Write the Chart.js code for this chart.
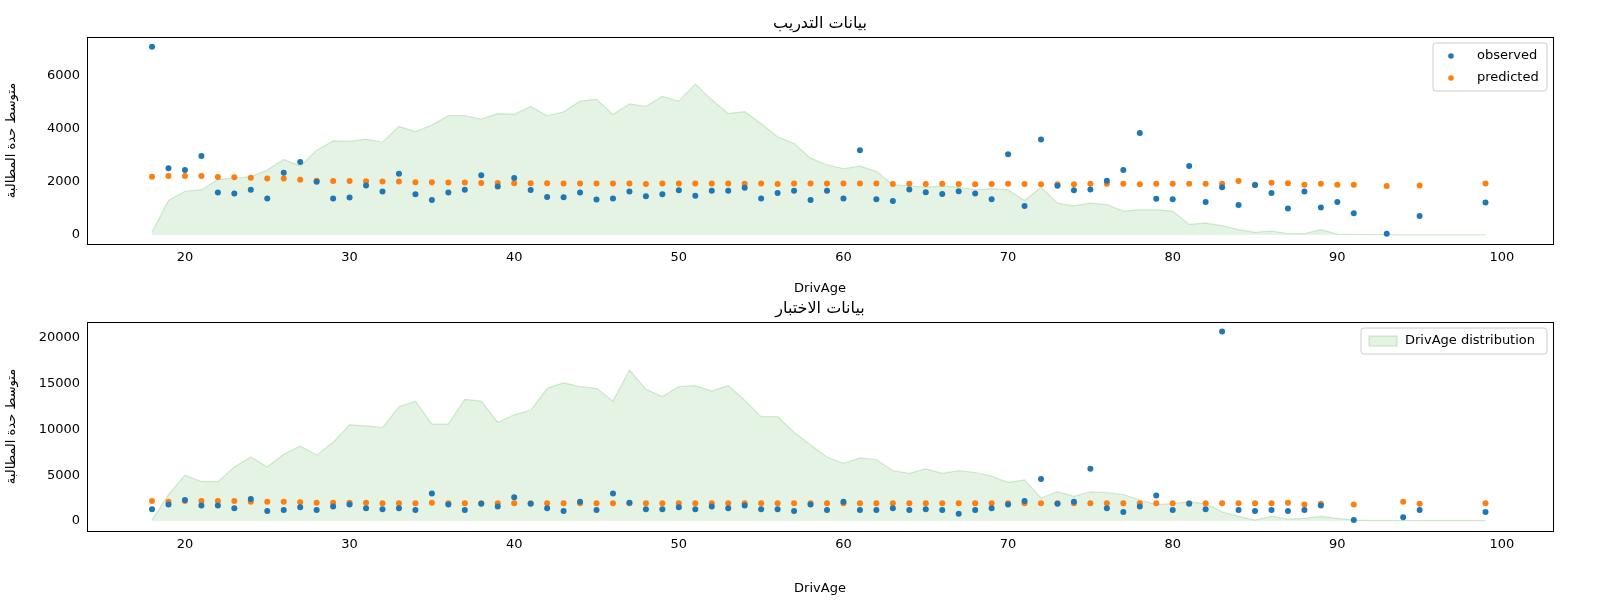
<!DOCTYPE html>
<html>
<head>
<meta charset="utf-8">
<script src="https://cdn.jsdelivr.net/npm/chart.js@4/dist/chart.umd.min.js"></script>
<style>
  body { margin: 0; background: #fff; }
  canvas { display: block; }
</style>
</head>
<body>
<canvas id="trainChart" width="1600" height="300"></canvas>
<canvas id="testChart" width="1600" height="300"></canvas>
<script>
// training data
const trainAges = [18,19,20,21,22,23,24,25,26,27,28,29,30,31,32,33,34,35,36,37,38,39,40,41,42,43,44,45,46,47,48,49,50,51,52,53,54,55,56,57,58,59,60,61,62,63,64,65,66,67,68,69,70,71,72,73,74,75,76,77,78,79,80,81,82,83,84,85,86,87,88,89,90,91,93,95,99];
const trainObserved = [7100,2520,2450,2980,1600,1570,1710,1380,2350,2750,2010,1380,1410,1870,1640,2310,1540,1320,1600,1710,2250,1830,2150,1700,1430,1420,1600,1340,1380,1640,1460,1540,1690,1480,1670,1670,1780,1380,1580,1670,1320,1670,1380,3200,1350,1280,1720,1610,1550,1650,1570,1350,3050,1090,3600,1860,1690,1720,2050,2450,3850,1370,1350,2600,1240,1800,1130,1890,1580,1000,1640,1040,1240,820,50,720,1230];
const trainPredicted = [2200,2230,2230,2230,2190,2180,2160,2130,2130,2080,2050,2040,2040,2030,2020,2020,1990,1990,1980,1980,1960,1960,1950,1950,1950,1940,1940,1940,1940,1940,1920,1940,1940,1940,1940,1940,1930,1940,1920,1940,1940,1940,1940,1940,1940,1920,1930,1920,1930,1920,1910,1920,1930,1920,1910,1910,1910,1930,1930,1930,1910,1930,1930,1930,1930,1930,2040,1900,1970,1950,1900,1930,1900,1900,1850,1870,1940];
const trainDist = [100,1300,1650,1700,2100,2150,2200,2450,2850,2600,3200,3550,3530,3620,3500,4100,3900,4150,4500,4500,4370,4580,4550,4850,4500,4650,5050,5120,4550,4950,4850,5230,5050,5700,5100,4580,4650,4200,3700,3450,2900,2650,2500,2600,2400,1900,1850,1800,1850,1800,1700,1750,1700,1300,1800,1200,1100,1200,1150,900,950,950,900,400,450,350,200,100,150,50,50,200,30,20,10,10,5,5,5,5,5,5];

// test data
const testAges = [18,19,20,21,22,23,24,25,26,27,28,29,30,31,32,33,34,35,36,37,38,39,40,41,42,43,44,45,46,47,48,49,50,51,52,53,54,55,56,57,58,59,60,61,62,63,64,65,66,67,68,69,70,71,72,73,74,75,76,77,78,79,80,81,82,83,84,85,86,87,88,89,91,94,95,99];
const testObserved = [1300,1800,2300,1700,1700,1400,2400,1100,1200,1500,1200,1600,1800,1400,1300,1400,1200,3000,1800,1200,1900,1600,2600,1900,1400,1100,2100,1200,3000,2000,1300,1300,1500,1300,1600,1400,1700,1300,1300,1100,1800,1200,2100,1200,1200,1400,1200,1300,1200,800,1200,1400,1800,2200,4600,1900,2100,5700,1400,1000,1600,2800,1200,1900,1300,20700,1200,1100,1200,1100,1200,1700,100,400,1200,1000];
const testPredicted = [2200,2100,2200,2200,2200,2200,2100,2100,2100,2050,2000,2000,2000,2000,1950,1950,1950,2000,1950,1950,1950,1950,1950,1950,1950,1950,1950,1950,1950,1950,1950,1950,1950,1950,1950,1950,1950,1950,1950,1950,1950,1950,1950,1950,1950,1950,1950,1950,1950,1950,1950,1950,1950,1950,1950,1950,1950,1950,1950,1950,1950,1950,1950,1950,1950,1950,1950,1950,1950,2000,1800,1900,1800,2100,1900,1950];
const testDist = [100,2900,5000,4300,4300,5900,7000,5900,7300,8200,7200,8600,10500,10400,10200,12500,13100,10600,10600,13300,13100,10800,11600,12100,14500,15100,14700,14500,13100,16500,14400,13600,14700,14800,14200,14800,13200,11400,11400,9700,8300,7000,6300,6900,6700,5500,5200,5700,5200,5500,5300,4900,4200,4500,2500,3200,2700,3200,3100,2900,2300,1800,1900,2100,1900,1000,500,100,500,200,300,500,300,100,50,50,50,50,50,50,50,50];

const distAges = [];
for (let a = 18; a <= 99; a++) distAges.push(a);

const xTicks = [20, 30, 40, 50, 60, 70, 80, 90, 100];
const trainYTicks = [0, 2000, 4000, 6000];
const testYTicks = [0, 5000, 10000, 15000, 20000];

const FONT = 'DejaVu Sans';
Chart.defaults.font.family = FONT;
Chart.defaults.color = '#000';

function pts(xs, ys) {
  return xs.map((x, i) => ({ x: x, y: ys[i] }));
}

const overlayPlugin = {
  id: 'overlay',
  afterDraw(chart, args, opts) {
    const ctx = chart.ctx;
    const a = chart.chartArea;
    ctx.save();
    ctx.strokeStyle = '#000';
    ctx.lineWidth = 1;
    ctx.strokeRect(a.left + 0.5, a.top + 0.5, a.right - a.left, a.bottom - a.top);
    // title
    ctx.fillStyle = '#000';
    ctx.font = '16px ' + FONT;
    ctx.textAlign = 'center';
    ctx.textBaseline = 'bottom';
    ctx.fillText(opts.title, (a.left + a.right) / 2, a.top - 5);
    // legend
    const items = opts.legend;
    const w = opts.legendWidth, h = items.length * 22 + 4;
    const x0 = a.right - w - 6, y0 = a.top + 6;
    ctx.fillStyle = 'rgba(255,255,255,0.8)';
    ctx.strokeStyle = '#ccc';
    ctx.beginPath();
    ctx.roundRect(x0, y0, w, h, 3);
    ctx.fill();
    ctx.stroke();
    ctx.font = '13px ' + FONT;
    ctx.textAlign = 'left';
    ctx.textBaseline = 'middle';
    items.forEach((it, i) => {
      const cy = y0 + 13 + i * 22;
      if (it.type === 'dot') {
        ctx.fillStyle = it.color;
        ctx.beginPath();
        ctx.arc(x0 + 18, cy, 2.8, 0, Math.PI * 2);
        ctx.fill();
      } else {
        ctx.fillStyle = 'rgba(44,160,44,0.13)';
        ctx.strokeStyle = 'rgba(44,160,44,0.25)';
        ctx.fillRect(x0 + 8, cy - 5, 28, 10);
        ctx.strokeRect(x0 + 8, cy - 5, 28, 10);
      }
      ctx.fillStyle = '#000';
      ctx.fillText(it.label, x0 + 44, cy);
    });
    ctx.restore();
  }
};

function makeChart(id, cfg) {
  return new Chart(document.getElementById(id), {
    type: 'scatter',
    data: {
      datasets: [
        {
          label: 'DrivAge distribution',
          type: 'line',
          data: pts(distAges, cfg.dist),
          fill: 'origin',
          backgroundColor: 'rgba(44,160,44,0.13)',
          borderColor: 'rgba(44,160,44,0.2)',
          borderWidth: 1.2,
          pointRadius: 0,
          tension: 0,
          order: 3
        },
        {
          label: 'predicted',
          data: pts(cfg.ages, cfg.predicted),
          backgroundColor: '#ff7f0e',
          borderWidth: 0,
          pointRadius: 3,
          order: 2
        },
        {
          label: 'observed',
          data: pts(cfg.ages, cfg.observed),
          backgroundColor: '#1f77b4',
          borderWidth: 0,
          pointRadius: 3,
          order: 1
        }
      ]
    },
    options: {
      responsive: false,
      animation: false,
      devicePixelRatio: 1,
      layout: { padding: { top: cfg.padTop, right: 47, left: 0, bottom: 0 } },
      plugins: {
        legend: { display: false },
        tooltip: { enabled: false },
        overlay: { title: cfg.title, legend: cfg.legend, legendWidth: cfg.legendWidth }
      },
      scales: {
        x: {
          type: 'linear',
          min: 14.05,
          max: 103.1,
          grid: { display: false, drawTicks: true, tickLength: 4, tickColor: '#000' },
          border: { display: false },
          afterBuildTicks: s => { s.ticks = xTicks.map(v => ({ value: v })); },
          afterFit: s => { s.height = cfg.xHeight; },
          ticks: { font: { size: 13 }, padding: 2, maxRotation: 0, autoSkip: false, callback: v => String(v) },
          title: { display: true, text: 'DrivAge', font: { size: 13 }, padding: { top: 2 } }
        },
        y: {
          min: cfg.yMin,
          max: cfg.yMax,
          grid: { display: false, drawTicks: true, tickLength: 4, tickColor: '#000' },
          border: { display: false },
          afterBuildTicks: s => { s.ticks = cfg.yTicks.map(v => ({ value: v })); },
          afterFit: s => { s.width = 87; },
          ticks: { font: { size: 13 }, padding: 3, autoSkip: false, callback: v => String(v) },
          title: { display: true, text: 'متوسط حدة المطالبة', font: { size: 13 }, padding: { bottom: 2 } }
        }
      }
    },
    plugins: [overlayPlugin]
  });
}

makeChart('trainChart', {
  title: 'بيانات التدريب',
  ages: trainAges, observed: trainObserved, predicted: trainPredicted, dist: trainDist,
  yMin: -340, yMax: 7470, yTicks: trainYTicks,
  padTop: 37, xHeight: 56,
  legendWidth: 114,
  legend: [
    { type: 'dot', color: '#1f77b4', label: 'observed' },
    { type: 'dot', color: '#ff7f0e', label: 'predicted' }
  ]
});

makeChart('testChart', {
  title: 'بيانات الاختبار',
  ages: testAges, observed: testObserved, predicted: testPredicted, dist: testDist,
  yMin: -1090, yMax: 21750, yTicks: testYTicks,
  padTop: 22, xHeight: 69,
  legendWidth: 186,
  legend: [
    { type: 'area', label: 'DrivAge distribution' }
  ]
});
</script>
</body>
</html>
